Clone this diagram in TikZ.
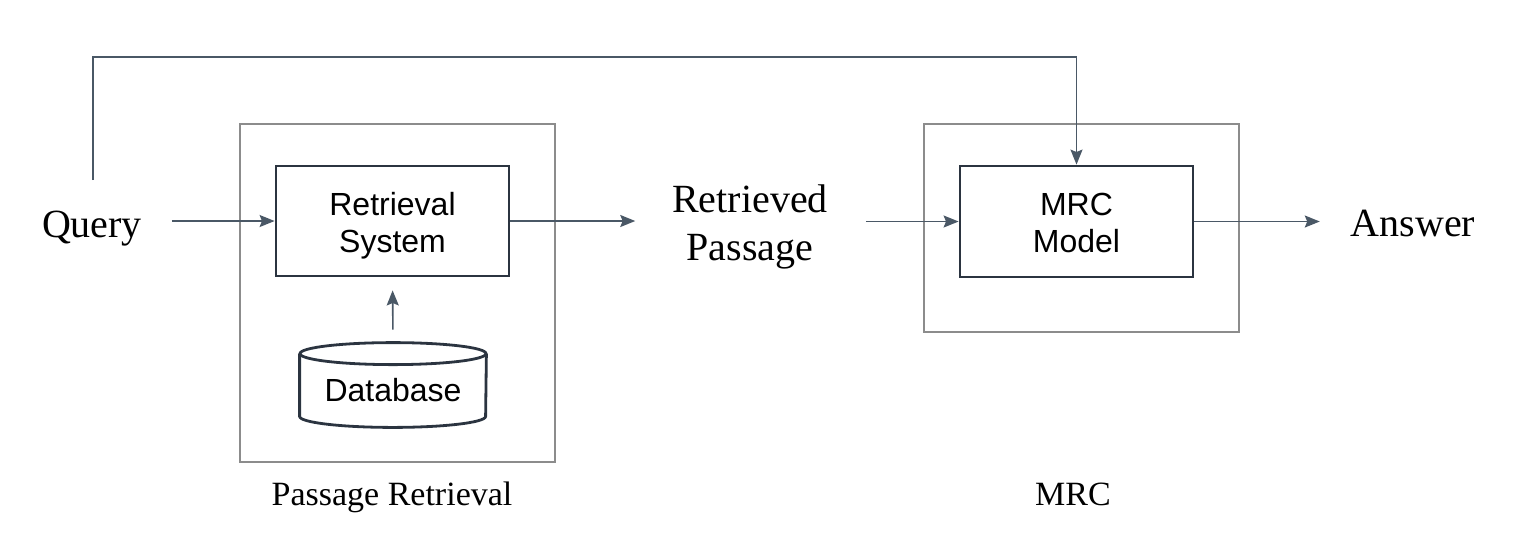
\documentclass[tikz,border=0pt]{standalone}
\usepackage{fontspec}
\setmainfont{Liberation Serif}
\newfontfamily\arialf{Liberation Sans}
\usetikzlibrary{arrows.meta}
\definecolor{boxgray}{HTML}{8C8C8C}
\definecolor{boxdark}{HTML}{2B3440}
\definecolor{arrowcol}{HTML}{4A5866}
\tikzset{
  outerbox/.style={draw=boxgray, line width=0.8pt, minimum width=157.5pt, inner sep=0pt},
  innerbox/.style={draw=boxdark, line width=1.4pt, minimum width=116.5pt, minimum height=55pt, inner sep=0pt},
  boxlabel/.style={align=center, font=\arialf\fontsize{16}{18.5}\selectfont, inner sep=0pt, yshift=-2.5pt},
  bigtext/.style={font=\fontsize{20}{24}\selectfont, inner sep=0pt, outer sep=0pt, align=center},
  captext/.style={font=\fontsize{17}{20}\selectfont, inner sep=0pt, anchor=base},
  conn/.style={draw=arrowcol, line width=0.8pt, -{Stealth[length=7.5pt,width=6pt,inset=1.2pt]}},
}
\begin{document}
\begin{tikzpicture}[x=0.5pt,y=-0.5pt]
\useasboundingbox (0,0) rectangle (1516,554);
% outer boxes
\node[outerbox, minimum height=169pt] (prbox) at (397.5,293) {};
\node[outerbox, minimum height=104pt] (mrcbox) at (1081.5,228) {};
% inner boxes
\node[innerbox, label={[boxlabel]center:Retrieval\\System}] (rs) at (392.5,221) {};
\node[innerbox, minimum height=55.5pt, label={[boxlabel]center:MRC\\Model\vphantom{y}}] (mm) at (1076.5,221.5) {};
% database cylinder
\node[minimum width=93pt, minimum height=42pt, inner sep=0pt] (db) at (393,385) {};
\draw[boxdark, line width=1.4pt] ([yshift=-5.5pt]db.north) ellipse [x radius=46.5pt, y radius=5.5pt];
\draw[boxdark, line width=1.4pt] ([yshift=-5.5pt]db.north west) -- ([yshift=5.5pt]db.south west)
  arc[start angle=180, end angle=360, x radius=46.5pt, y radius=5.5pt] -- ([yshift=-5.5pt]db.north east);
\node[font=\arialf\fontsize{16}{18}\selectfont, inner sep=0pt] (dbtext) at (393,390) {Database};
% texts
\node[bigtext, anchor=base] (query) at (92,237) {Query};
\node[bigtext, anchor=base] (ans) at (1413,236) {Answer};
\node[bigtext, anchor=base] (rp) at (750,260) {Retrieved\\Passage};
\node[captext] (cap1) at (392,505) {Passage Retrieval};
\node[captext] (cap2) at (1073,505) {MRC};
% connectors
\coordinate (qtop) at (93,180);
\coordinate (topleft) at (93,57);
\draw[conn] (qtop) -- (topleft) -| (mm.north);
\draw[conn, shorten <=15pt] (query.east |- rs.west) -- (rs.west);
\draw[conn, shorten >=18.5pt] (rs.east) -- (rp.west |- rs.east);
\draw[conn, shorten <=19pt] (rp.east |- mm.west) -- (mm.west);
\draw[conn, shorten >=15.5pt] (mm.east) -- (ans.west |- mm.east);
\draw[conn, shorten <=6.5pt, shorten >=6.5pt] (db.north) -- (rs.south);
\end{tikzpicture}
\end{document}
